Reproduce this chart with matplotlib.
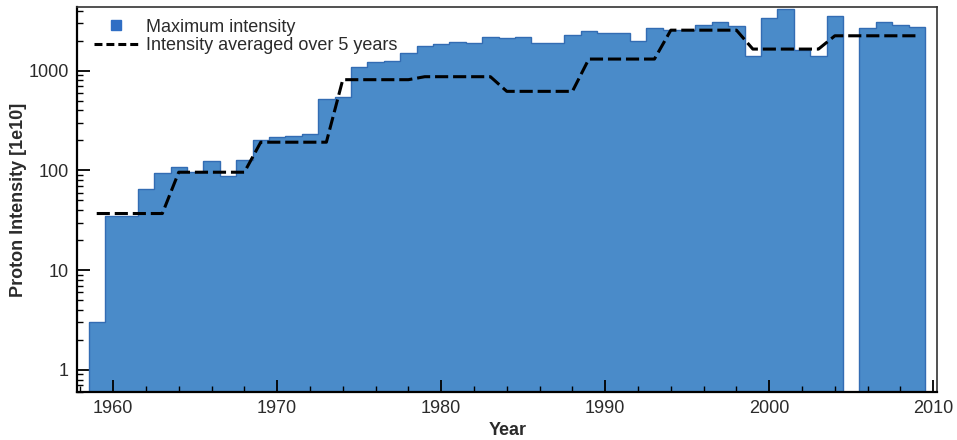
import numpy as np
import matplotlib
matplotlib.use("Agg")
import matplotlib.pyplot as plt
from matplotlib.lines import Line2D
from matplotlib.ticker import FixedLocator, LogLocator, NullFormatter

plt.rcParams['font.family'] = ['Liberation Sans', 'DejaVu Sans']

fontsize = 13

# maximum intensity per year (1e10 protons), 2005 has no entry
years = [1959, 1960, 1961, 1962, 1963, 1964, 1965, 1966, 1967, 1968,
         1969, 1970, 1971, 1972, 1973, 1974, 1975, 1976, 1977, 1978,
         1979, 1980, 1981, 1982, 1983, 1984, 1985, 1986, 1987, 1988,
         1989, 1990, 1991, 1992, 1993, 1994, 1995, 1996, 1997, 1998,
         1999, 2000, 2001, 2002, 2003, 2004, 2005, 2006, 2007, 2008,
         2009]
max_intensity = [3, 35, 35, 65, 94, 108, 97, 125, 87, 128,
                 203, 215, 224, 230, 515, 540, 1080, 1220, 1250, 1520,
                 1780, 1860, 1950, 1890, 2160, 2120, 2160, 1880, 1880, 2290,
                 2510, 2380, 2380, 1995, 2670, 2550, 2550, 2880, 3070, 2820,
                 1413, 3360, 4140, 1600, 1413, 3550, np.nan, 2670, 3090, 2880,
                 2750]

# 5 year average, corner points of the dashed line
avg_years = [1959, 1963, 1964, 1968, 1969, 1973, 1974, 1978, 1979, 1983,
             1984, 1988, 1989, 1993, 1994, 1998, 1999, 2003, 2004, 2009]
avg_values = [37, 37, 96, 96, 192, 192, 813, 813, 871, 871,
              621, 621, 1309, 1309, 2550, 2550, 1648, 1648, 2240, 2240]

bar_color = "#4a8bc9"
edge_color = "#336cb3"

fig = plt.figure(figsize=(9.57, 4.4), dpi=100)
ax = fig.add_axes([0.0805, 0.109, 0.899, 0.875])

yrs = np.array(years, dtype=float)
vals = np.array(max_intensity, dtype=float)
ax.bar(yrs, np.nan_to_num(vals), width=1.0, color=bar_color, linewidth=0, zorder=1)

# darker outline of the step shape, one piece per run of years with data
ok = ~np.isnan(vals)
start = None
for i in range(len(vals) + 1):
    if i < len(vals) and ok[i]:
        if start is None:
            start = i
    elif start is not None:
        seg = vals[start:i]
        edges = np.append(yrs[start:i] - 0.5, yrs[i - 1] + 0.5)
        ax.stairs(seg, edges, baseline=0.01, color=edge_color, linewidth=1.0, zorder=2)
        start = None

ax.plot(avg_years, avg_values, color="black", linestyle="--", dashes=(4.3, 1.6),
        linewidth=2.2, zorder=3)

ax.set_yscale("log")
ax.set_xlim(1957.8, 2010.25)
ax.set_ylim(0.6, 4350)

ax.xaxis.set_major_locator(FixedLocator([1960, 1970, 1980, 1990, 2000, 2010]))
ax.xaxis.set_minor_locator(FixedLocator(np.arange(1958, 2011, 2)))
ax.yaxis.set_major_locator(FixedLocator([1, 10, 100, 1000]))
ax.yaxis.set_minor_locator(LogLocator(base=10, subs=np.arange(2, 10)))
ax.yaxis.set_minor_formatter(NullFormatter())
ax.set_yticklabels(["1", "10", "100", "1000"])

ax.tick_params(which="major", direction="in", length=9, width=1.3,
               labelsize=fontsize, labelcolor="#2b2b2b", pad=6)
ax.tick_params(which="minor", direction="in", length=4.5, width=1.0)
ax.tick_params(top=False, right=False, which="both")

for side in ["left", "bottom"]:
    ax.spines[side].set_linewidth(1.6)
for side in ["top", "right"]:
    ax.spines[side].set_linewidth(1.2)
    ax.spines[side].set_color("#333333")

ax.set_xlabel("Year", fontsize=13, fontweight="bold", color="#2b2b2b", labelpad=3)
ax.set_ylabel("Proton Intensity [1e10]", fontsize=13, fontweight="bold",
              color="#2b2b2b", labelpad=1)

handles = [Line2D([], [], marker="s", linestyle="none", markersize=7.5,
                  markerfacecolor="#2f6ec4", markeredgecolor="#2f6ec4"),
           Line2D([], [], color="black", linestyle="--", dashes=(2.6, 1.3), linewidth=2.2)]
ax.legend(handles, ["Maximum intensity", "Intensity averaged over 5 years"],
          loc="upper left", bbox_to_anchor=(0.02, 0.97), frameon=False,
          fontsize=13, handlelength=2.4, handletextpad=0.45, labelspacing=0.1,
          borderpad=0, borderaxespad=0, labelcolor="#2b2b2b")

fig.savefig("out.png", dpi=100)
plt.close()
